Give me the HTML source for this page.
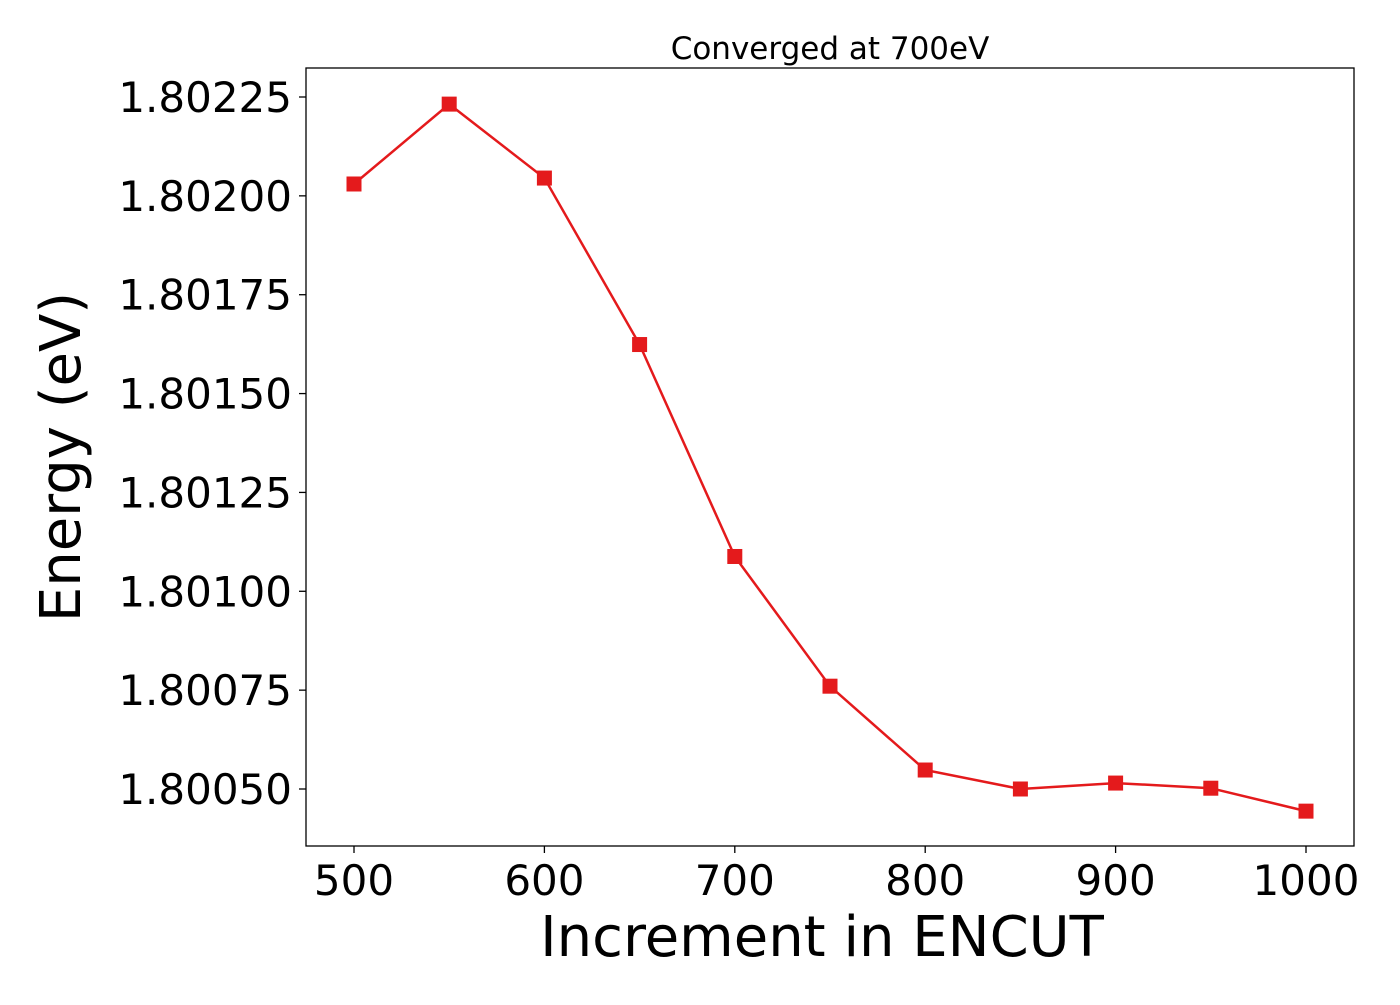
<!DOCTYPE html>
<html><head><meta charset="utf-8"><style>
body{margin:0;background:#fff;}
svg text{font-family:"DejaVu Sans","Liberation Sans",sans-serif;fill:#000;}
</style></head><body>
<svg id="chart" width="1400" height="1000" xmlns="http://www.w3.org/2000/svg">
<rect width="1400" height="1000" fill="#fff"/>
<text x="830" y="59" font-size="31" text-anchor="middle">Converged at 700eV</text>
<g id="xt"></g><g id="yt"></g><g id="series"></g>
<rect x="306" y="68" width="1048" height="778" fill="none" stroke="#000" stroke-width="1.3"/>
<text x="822" y="956" font-size="56" text-anchor="middle">Increment in ENCUT</text>
<text transform="translate(80,457) rotate(-90)" font-size="56" text-anchor="middle">Energy (eV)</text>
</svg>
<script>
const categories=[500,550,600,650,700,750,800,850,900,950,1000];
const energies=[1.80203,1.802232,1.802045,1.801624,1.801088,1.80076,1.800548,1.8005,1.800515,1.800502,1.800444];
const xTicks=[500,600,700,800,900,1000];
const yTicks=[1.8005,1.80075,1.801,1.80125,1.8015,1.80175,1.802,1.80225];
const yTickLabels=["1.80050","1.80075","1.80100","1.80125","1.80150","1.80175","1.80200","1.80225"];
const NS="http://www.w3.org/2000/svg";
const xs=v=>354+(v-500)*(1306-354)/500;
const ys=v=>789-(v-1.8005)*(789-97)/0.00175;
function mk(t,a,p){const e=document.createElementNS(NS,t);for(const k in a)e.setAttribute(k,a[k]);p.appendChild(e);return e;}
const xt=document.getElementById('xt'),yt=document.getElementById('yt'),s=document.getElementById('series');
xTicks.forEach(v=>{
 const l=mk('line',{x1:xs(v),x2:xs(v),y1:846,y2:853,stroke:'#000','stroke-width':1.3},xt);
 
 
 const t=mk('text',{x:xs(v),y:895,'font-size':42,'text-anchor':'middle'},xt);t.textContent=v;
 
 
});
yTicks.forEach((v,i)=>{
 const l=mk('line',{x1:299,x2:306,y1:ys(v),y2:ys(v),stroke:'#000','stroke-width':1.3},yt);
 
 
 const t=mk('text',{x:292,y:ys(v)+15,'font-size':42,'text-anchor':'end'},yt);t.textContent=yTickLabels[i];
 
 
});
const pts=categories.map((c,i)=>xs(c)+','+ys(energies[i])).join(' ');
const pl=mk('polyline',{points:pts,fill:'none',stroke:'#e41a1c','stroke-width':2.5},s);


categories.forEach((c,i)=>{
 const r=mk('rect',{x:xs(c)-7.5,y:ys(energies[i])-7.5,width:15,height:15,fill:'#e41a1c'},s);
 
 
});
</script>
</body></html>
